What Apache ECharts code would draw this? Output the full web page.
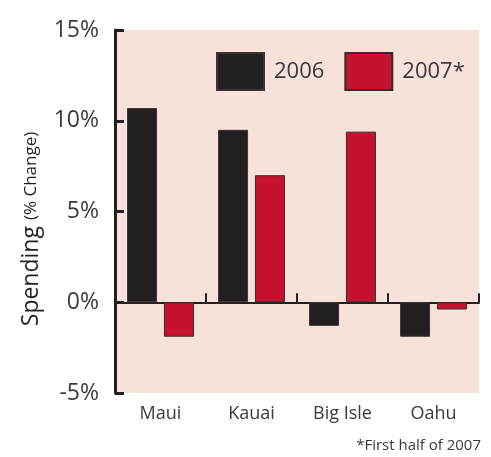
<!DOCTYPE html>
<html>
<head>
<meta charset="utf-8">
<script src="https://cdn.jsdelivr.net/npm/echarts@6/dist/echarts.min.js"></script>
<style>
  html, body { margin: 0; padding: 0; background: #fff; }
  #chart { width: 491px; height: 457px; }
</style>
</head>
<body>
<div id="chart"></div>
<script>
// Island visitor spending, percent change by year
const islands = ['Maui', 'Kauai', 'Big Isle', 'Oahu'];
const spending2006 = [10.7, 9.5, -1.3, -1.9];
const spending2007 = [-1.9, 7.0, 9.4, -0.4];
const yTicks = [-5, 0, 5, 10, 15];

const FONT = '"Open Sans", sans-serif';
const INK = '#231f20';
const RED = '#c41230';
const TEXT = '#3a3a3a';

const chart = echarts.init(document.getElementById('chart'));

chart.setOption({
  animation: false,
  grid: {
    left: 115, right: 12, top: 30, bottom: 64,
    show: true, backgroundColor: '#f6e1db', borderWidth: 0
  },
  legend: {
    left: 211, top: 47,
    itemWidth: 47, itemHeight: 37, itemGap: 20,
    icon: 'rect',
    textStyle: { fontFamily: FONT, fontSize: 22, color: TEXT, padding: [0, 0, 0, 5] },
    data: ['2006', '2007*']
  },
  xAxis: [
    {
      type: 'category', data: islands, position: 'bottom',
      axisLine: { onZero: true, lineStyle: { color: INK, width: 2 } },
      axisTick: { show: true, inside: true, length: 9, lineStyle: { color: INK, width: 2 } },
      axisLabel: { show: false }
    },
    {
      type: 'category', data: islands, position: 'bottom',
      axisLine: { show: false, onZero: false },
      axisTick: { show: false },
      axisLabel: { show: true, margin: 12, fontFamily: FONT, fontSize: 18, color: TEXT }
    }
  ],
  yAxis: {
    type: 'value', min: yTicks[0], max: yTicks[yTicks.length - 1], interval: 5,
    axisLine: { show: true, lineStyle: { color: INK, width: 3 } },
    axisTick: { show: true, inside: true, length: 9, lineStyle: { color: INK, width: 3 } },
    splitLine: { show: false },
    axisLabel: {
      margin: 16, fontFamily: FONT, fontSize: 23, color: TEXT,
      formatter: v => v + '%'
    }
  },
  series: [
    {
      name: '2006', type: 'bar', data: spending2006,
      barWidth: 30, barGap: '23%',
      itemStyle: { color: INK, borderColor: '#3b3334', borderWidth: 1 }
    },
    {
      name: '2007*', type: 'bar', data: spending2007,
      barWidth: 30,
      itemStyle: { color: RED, borderColor: '#3b2a2c', borderWidth: 1 }
    }
  ],
  graphic: [
    {
      // vertical axis title
      type: 'text', x: 31, y: 229, rotation: Math.PI / 2,
      style: {
        text: '{a|Spending}{b|(% Change)}',
        align: 'center', verticalAlign: 'middle',
        rich: {
          a: { fontFamily: FONT, fontSize: 23, fill: INK },
          b: { fontFamily: FONT, fontSize: 17, fill: INK, padding: [0, 0, 0, 6] }
        }
      }
    },
    {
      type: 'text', right: 10, top: 438,
      style: { text: '*First half of 2007', font: '15px ' + FONT, fill: TEXT }
    }
  ]
});
</script>
</body>
</html>
